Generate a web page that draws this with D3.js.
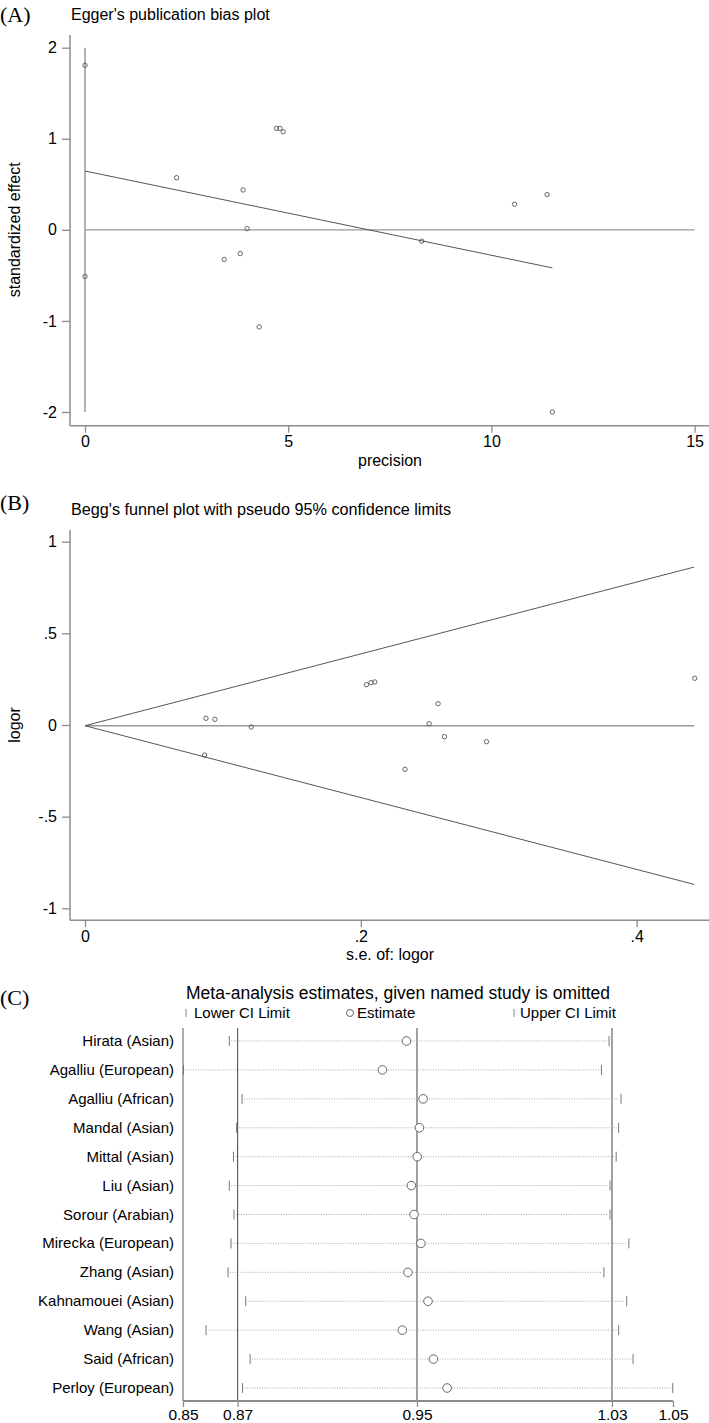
<!DOCTYPE html>
<html><head><meta charset="utf-8">
<script src="https://cdn.jsdelivr.net/npm/d3@7"></script>
<style>
body{margin:0;background:#fff;}
svg{display:block;}
text{font-family:"Liberation Sans Narrow","Arial Narrow","Liberation Sans",Arial,sans-serif;fill:#000;}
.panel{font-family:"Liberation Serif","Times New Roman",serif;font-size:22px;}
</style></head>
<body>
<script>
// ---------- Panel A: Egger's plot ----------
const eggerPrecision = [0, 0, 2.255, 3.425, 3.82, 3.89, 3.99, 4.286, 4.71, 4.795, 4.876, 8.286, 10.57, 11.37, 11.5];
const eggerEffect    = [1.807, -0.511, 0.573, -0.325, -0.26, 0.438, 0.014, -1.066, 1.114, 1.114, 1.077, -0.124, 0.281, 0.387, -2.0];
const eggerFit = {intercept: 0.646, slope: -0.0925};
const eggerCI = [-2, 2];
const eggerXTicks = [0, 5, 10, 15];
const eggerYTicks = [-2, -1, 0, 1, 2];

// ---------- Panel B: Begg's funnel ----------
const beggSE    = [0.0877, 0.0942, 0.1205, 0.2041, 0.2074, 0.2101, 0.256, 0.2495, 0.2606, 0.2911, 0.0867, 0.4421, 0.232];
const beggLogOR = [0.0366, 0.0311, -0.0109, 0.22, 0.231, 0.2347, 0.1163, 0.0071, -0.0639, -0.0912, -0.1638, 0.2549, -0.2418];
const beggPooled = -0.004;
const beggSEMax = 0.4416;
const beggXTicks = [0, 0.2, 0.4];
const beggYTicks = [-1, -0.5, 0, 0.5, 1];

// ---------- Panel C: influence analysis ----------
const studies = ["Hirata (Asian)", "Agalliu (European)", "Agalliu (African)", "Mandal (Asian)", "Mittal (Asian)", "Liu (Asian)", "Sorour (Arabian)", "Mirecka (European)", "Zhang (Asian)", "Kahnamouei (Asian)", "Wang (Asian)", "Said (African)", "Perloy (European)"];
const lowerCI  = [0.8689, 0.8502, 0.8741, 0.8719, 0.8706, 0.8689, 0.8708, 0.8696, 0.8684, 0.8756, 0.8594, 0.8774, 0.8743];
const estimate = [0.9412, 0.9314, 0.9480, 0.9465, 0.9456, 0.9432, 0.9443, 0.9471, 0.9418, 0.9500, 0.9395, 0.9522, 0.9578];
const upperCI  = [1.0239, 1.0208, 1.0288, 1.0278, 1.0268, 1.0243, 1.0243, 1.0320, 1.0218, 1.0311, 1.0278, 1.0337, 1.0499];
const combined = {lower: 0.8723, est: 0.9455, upper: 1.0251};
const cTicks = [0.85, 0.8723, 0.9455, 1.0251, 1.05];

const W = 709, H = 1423;
const svg = d3.select("body").append("svg").attr("width", W).attr("height", H);

const axisColor = "#8c8c8c", lineColor = "#555", ptColor = "#555";

// Stata-style numbers: hyphen minus, no leading zero
const stataFmt = d => {
  if (d === 0) return "0";
  const s = String(Math.abs(d)).replace(/^0\./, ".");
  return (d < 0 ? "-" : "") + s;
};

function yAxisLeft(g, y, ticks, x0) {
  g.append("g").attr("transform", `translate(${x0},0)`)
    .call(d3.axisLeft(y).tickValues(ticks).tickFormat(stataFmt).tickSize(8).tickPadding(5).tickSizeOuter(0))
    .call(a => { a.select(".domain").remove(); a.selectAll("line").attr("stroke", axisColor).attr("stroke-width", 1.3);
                 a.selectAll("text").attr("font-size", 16).attr("font-family", null); });
}
function xAxisBottom(g, x, ticks, y0) {
  g.append("g").attr("transform", `translate(0,${y0})`)
    .call(d3.axisBottom(x).tickValues(ticks).tickFormat(stataFmt).tickSize(7).tickPadding(3).tickSizeOuter(0))
    .call(a => { a.select(".domain").remove(); a.selectAll("line").attr("stroke", axisColor).attr("stroke-width", 1.3);
                 a.selectAll("text").attr("font-size", 16).attr("font-family", null); });
}

// ===== Panel A =====
{
  const g = svg.append("g");
  const x = d3.scaleLinear().domain([0, 15]).range([85, 694.6]);
  const y = d3.scaleLinear().domain([-2, 2]).range([412, 47.7]);
  g.append("text").attr("class", "panel").attr("x", 0).attr("y", 22).text("(A)");
  g.append("text").attr("x", 71).attr("y", 20).attr("font-size", 16).text("Egger's publication bias plot");
  g.append("line").attr("x1", 70).attr("x2", 70).attr("y1", 35).attr("y2", 425.7).attr("stroke", axisColor).attr("stroke-width", 1.5);
  g.append("line").attr("x1", 70).attr("x2", 709).attr("y1", 425.7).attr("y2", 425.7).attr("stroke", axisColor).attr("stroke-width", 1.5);
  yAxisLeft(g, y, eggerYTicks, 70);
  xAxisBottom(g, x, eggerXTicks, 425.7);
  g.append("text").attr("x", 390).attr("y", 466).attr("text-anchor", "middle").attr("font-size", 16).text("precision");
  g.append("text").attr("transform", `translate(20,${y(0)}) rotate(-90)`).attr("text-anchor", "middle").attr("font-size", 16).text("standardized effect");
  g.append("line").attr("x1", x(0)).attr("x2", x(15)).attr("y1", y(0)).attr("y2", y(0)).attr("stroke", "#999").attr("stroke-width", 1.3);
  g.append("line").attr("x1", x(0)).attr("x2", x(0)).attr("y1", y(eggerCI[0])).attr("y2", y(eggerCI[1])).attr("stroke", "#999").attr("stroke-width", 1.5);
  const xmax = d3.max(eggerPrecision);
  g.append("line").attr("x1", x(0)).attr("x2", x(xmax))
    .attr("y1", y(eggerFit.intercept)).attr("y2", y(eggerFit.intercept + eggerFit.slope * xmax))
    .attr("stroke", lineColor).attr("stroke-width", 1);
  g.selectAll("circle.pa").data(eggerPrecision).join("circle").attr("class", "pa")
    .attr("cx", d => x(d)).attr("cy", (d, i) => y(eggerEffect[i])).attr("r", 2.2)
    .attr("fill", "none").attr("stroke", ptColor).attr("stroke-width", 0.9);
}

// ===== Panel B =====
{
  const g = svg.append("g");
  const x = d3.scaleLinear().domain([0, 0.4]).range([85, 636.7]);
  const y = d3.scaleLinear().domain([-1, 1]).range([908.3, 541.7]);
  g.append("text").attr("class", "panel").attr("x", 0).attr("y", 510).text("(B)");
  g.append("text").attr("x", 71).attr("y", 515).attr("font-size", 16.2).text("Begg's funnel plot with pseudo 95% confidence limits");
  g.append("line").attr("x1", 70).attr("x2", 70).attr("y1", 530).attr("y2", 920.3).attr("stroke", axisColor).attr("stroke-width", 1.5);
  g.append("line").attr("x1", 70).attr("x2", 709).attr("y1", 920.3).attr("y2", 920.3).attr("stroke", axisColor).attr("stroke-width", 1.5);
  yAxisLeft(g, y, beggYTicks, 70);
  xAxisBottom(g, x, beggXTicks, 920.3);
  g.append("text").attr("x", 390).attr("y", 960).attr("text-anchor", "middle").attr("font-size", 16).text("s.e. of: logor");
  g.append("text").attr("transform", `translate(20,${y(0)}) rotate(-90)`).attr("text-anchor", "middle").attr("font-size", 16).text("logor");
  g.append("line").attr("x1", x(0)).attr("x2", x(beggSEMax)).attr("y1", y(beggPooled)).attr("y2", y(beggPooled)).attr("stroke", "#999").attr("stroke-width", 1.3);
  [1, -1].forEach(s => {
    g.append("line").attr("x1", x(0)).attr("y1", y(beggPooled))
      .attr("x2", x(beggSEMax)).attr("y2", y(beggPooled + s * 1.96 * beggSEMax))
      .attr("stroke", lineColor).attr("stroke-width", 1);
  });
  g.selectAll("circle.pb").data(beggSE).join("circle").attr("class", "pb")
    .attr("cx", d => x(d)).attr("cy", (d, i) => y(beggLogOR[i])).attr("r", 2.2)
    .attr("fill", "none").attr("stroke", ptColor).attr("stroke-width", 0.9);
}

// ===== Panel C =====
{
  const g = svg.append("g");
  const x = d3.scaleLinear().domain([0.85, 1.05]).range([183, 673]);
  const y = d3.scalePoint().domain(studies).range([1041, 1388]);
  const top = 1028, bottom = 1401;
  g.append("text").attr("class", "panel").attr("x", 0).attr("y", 1005).text("(C)");
  g.append("text").attr("x", 186).attr("y", 999).attr("font-size", 17.5).text("Meta-analysis estimates, given named study is omitted");
  const ly = 1013;
  g.append("line").attr("x1", 186).attr("x2", 186).attr("y1", ly - 4).attr("y2", ly + 4).attr("stroke", "#888");
  g.append("text").attr("x", 194).attr("y", ly + 5).attr("font-size", 15).text("Lower CI Limit");
  g.append("circle").attr("cx", 350).attr("cy", ly).attr("r", 3.5).attr("fill", "none").attr("stroke", "#666");
  g.append("text").attr("x", 357).attr("y", ly + 5).attr("font-size", 15).text("Estimate");
  g.append("line").attr("x1", 514).attr("x2", 514).attr("y1", ly - 4).attr("y2", ly + 4).attr("stroke", "#888");
  g.append("text").attr("x", 520).attr("y", ly + 5).attr("font-size", 15).text("Upper CI Limit");
  g.append("line").attr("x1", 183).attr("x2", 183).attr("y1", top).attr("y2", bottom).attr("stroke", "#777").attr("stroke-width", 1.2);
  [combined.lower, combined.est, combined.upper].forEach(v => {
    g.append("line").attr("x1", x(v)).attr("x2", x(v)).attr("y1", top).attr("y2", bottom).attr("stroke", "#444").attr("stroke-width", 1);
  });
  g.append("line").attr("x1", 183).attr("x2", 673).attr("y1", bottom).attr("y2", bottom).attr("stroke", axisColor).attr("stroke-width", 2);
  g.append("g").attr("transform", `translate(0,${bottom})`)
    .call(d3.axisBottom(x).tickValues(cTicks).tickFormat(d3.format(".2f")).tickSize(6).tickPadding(2).tickSizeOuter(0))
    .call(a => { a.select(".domain").remove(); a.selectAll("line").attr("stroke", axisColor).attr("stroke-width", 1.3);
                 a.selectAll("text").attr("font-size", 15.5).attr("font-family", null); });
  const rows = g.selectAll("g.row").data(studies).join("g").attr("class", "row");
  rows.append("text").attr("x", 174).attr("y", d => y(d) + 5).attr("text-anchor", "end").attr("font-size", 15).text(d => d);
  rows.append("line").attr("x1", (d, i) => x(lowerCI[i]) + 2).attr("x2", (d, i) => x(upperCI[i]) - 2)
    .attr("y1", d => y(d)).attr("y2", d => y(d)).attr("stroke", "#aaa").attr("stroke-width", 1).attr("stroke-dasharray", "1,1.5");
  rows.append("line").attr("x1", (d, i) => x(lowerCI[i])).attr("x2", (d, i) => x(lowerCI[i]))
    .attr("y1", d => y(d) - 5).attr("y2", d => y(d) + 5).attr("stroke", "#777").attr("stroke-width", 1);
  rows.append("line").attr("x1", (d, i) => x(upperCI[i])).attr("x2", (d, i) => x(upperCI[i]))
    .attr("y1", d => y(d) - 5).attr("y2", d => y(d) + 5).attr("stroke", "#777").attr("stroke-width", 1);
  rows.append("circle").attr("cx", (d, i) => x(estimate[i])).attr("cy", d => y(d)).attr("r", 4.3)
    .attr("fill", "#fff").attr("stroke", "#666").attr("stroke-width", 1);
}
</script>
</body></html>
